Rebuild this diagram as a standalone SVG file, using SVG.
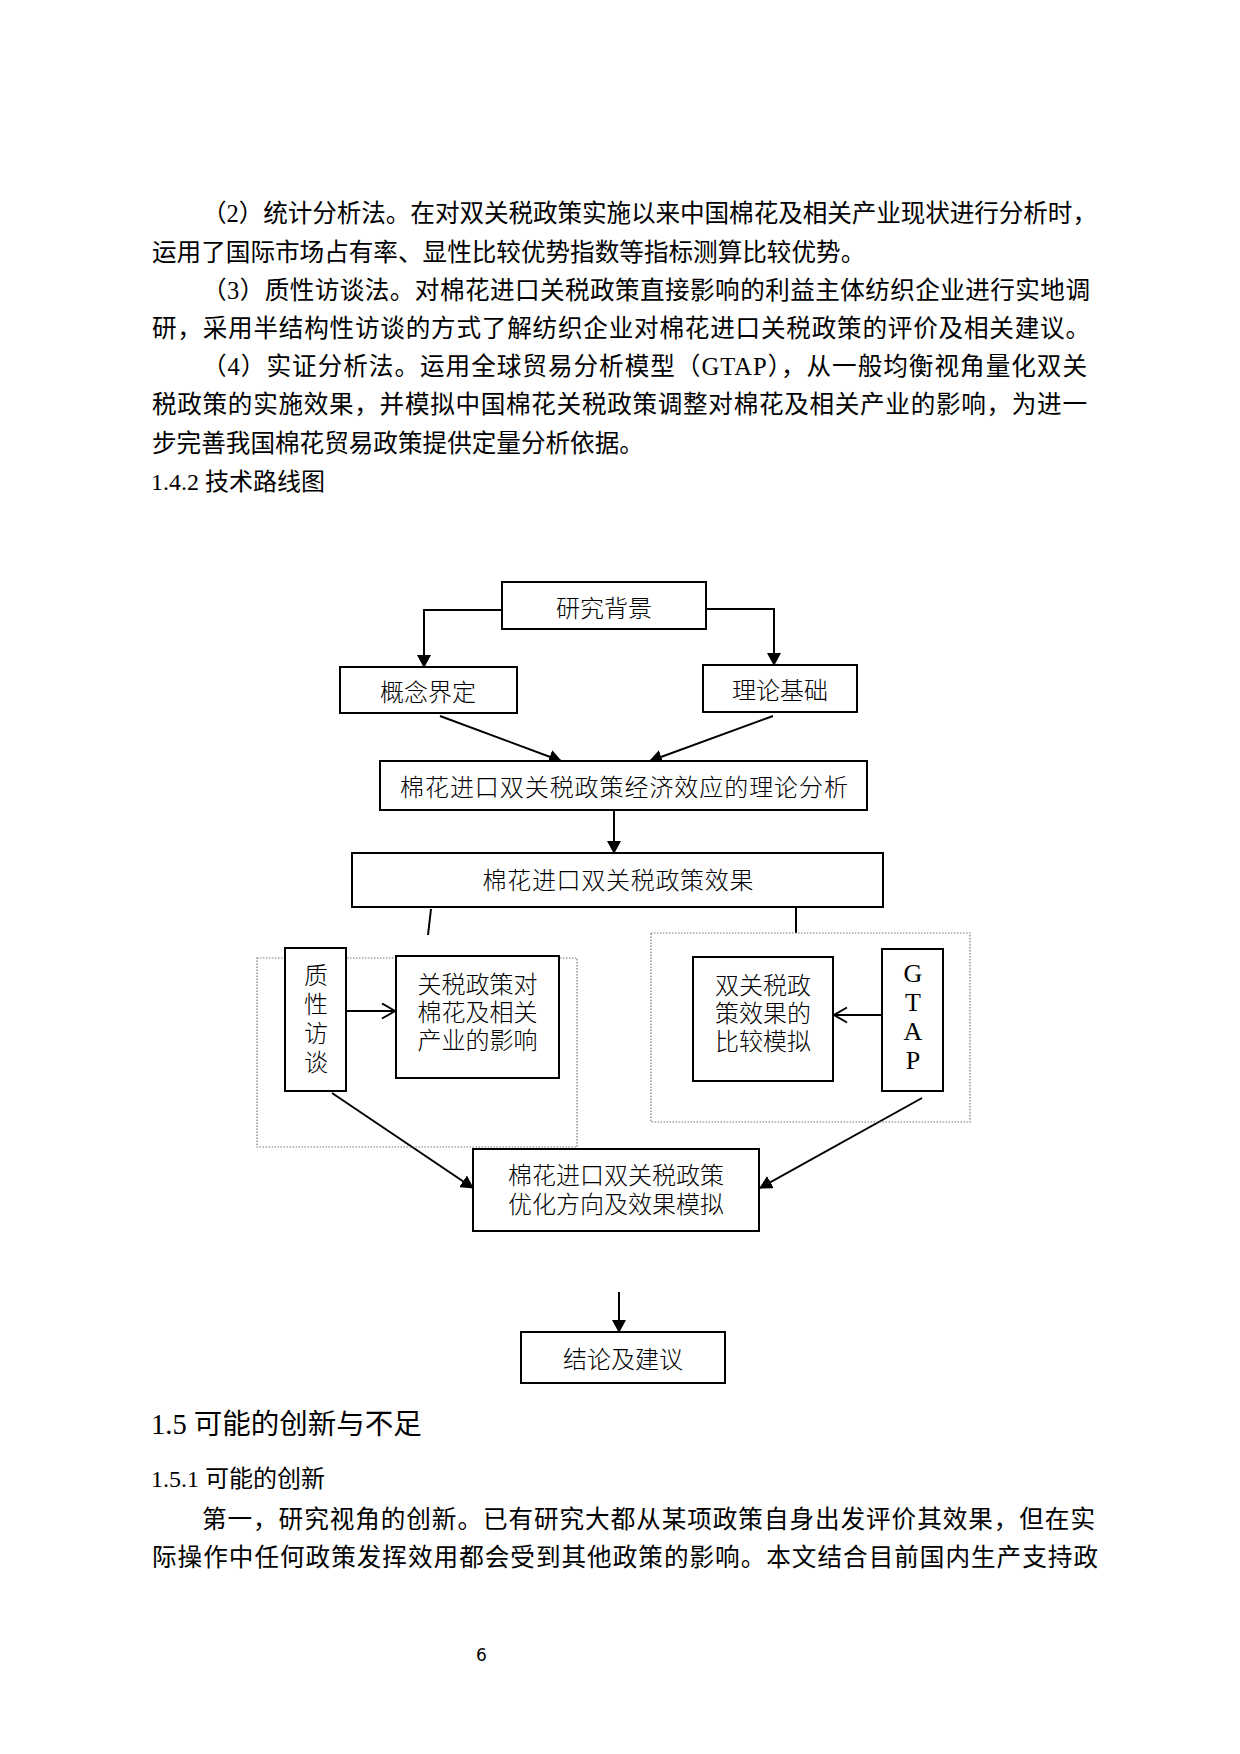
<svg xmlns="http://www.w3.org/2000/svg" width="1240" height="1754" viewBox="0 0 1240 1754">
<style>
.body{font-family:"Liberation Serif","Noto Sans CJK SC",serif;font-size:24.6px;fill:#000;}
.h{font-family:"Liberation Serif","Noto Sans CJK SC",sans-serif;fill:#000;}
.lbl{font-family:"Noto Sans CJK SC",sans-serif;font-size:24px;font-weight:300;fill:#000;text-anchor:middle;dominant-baseline:central;}
.gt{font-family:"Liberation Serif",serif;font-size:26px;fill:#000;text-anchor:middle;dominant-baseline:central;}
.box{fill:#fff;stroke:#000;stroke-width:2;}
.grp{fill:none;stroke:#777;stroke-width:1.2;stroke-dasharray:1.5 1.5;}
.con{fill:none;stroke:#000;stroke-width:2;}
.arr{marker-end:url(#ah);}
.oarr{marker-end:url(#oh);}
</style>
<defs>
<marker id="ah" markerUnits="userSpaceOnUse" markerWidth="13" markerHeight="14" refX="12" refY="7" orient="auto">
<path d="M0,0 L13,7 L0,14 z" fill="#000"/>
</marker>
<marker id="oh" markerUnits="userSpaceOnUse" markerWidth="16" markerHeight="18" refX="14" refY="8.5" orient="auto">
<path d="M1,1 L14,8.5 L1,16" fill="none" stroke="#000" stroke-width="2"/>
</marker>
</defs>
<rect width="1240" height="1754" fill="#fff"/>

<g id="text-top" class="body" dominant-baseline="central">
<text x="202" y="213" textLength="895" lengthAdjust="spacing">（2）统计分析法。在对双关税政策实施以来中国棉花及相关产业现状进行分析时，</text>
<text x="152" y="252">运用了国际市场占有率、显性比较优势指数等指标测算比较优势。</text>
<text x="202" y="290" textLength="888" lengthAdjust="spacing">（3）质性访谈法。对棉花进口关税政策直接影响的利益主体纺织企业进行实地调</text>
<text x="152" y="328" textLength="938" lengthAdjust="spacing">研，采用半结构性访谈的方式了解纺织企业对棉花进口关税政策的评价及相关建议。</text>
<text x="202" y="366" textLength="885" lengthAdjust="spacing">（4）实证分析法。运用全球贸易分析模型（GTAP），从一般均衡视角量化双关</text>
<text x="152" y="404" textLength="935" lengthAdjust="spacing">税政策的实施效果，并模拟中国棉花关税政策调整对棉花及相关产业的影响，为进一</text>
<text x="152" y="443">步完善我国棉花贸易政策提供定量分析依据。</text>
</g>
<text id="h142" class="h" x="151" y="482" font-size="24" dominant-baseline="central">1.4.2 技术路线图</text>

<g id="connectors">
<polyline class="con arr" points="503,610 424,610 424,667"/>
<polyline class="con arr" points="706,609 774,609 774,665"/>
<line class="con arr" x1="440" y1="716" x2="561" y2="761"/>
<line class="con arr" x1="773" y1="716" x2="650" y2="761"/>
<line class="con arr" x1="614" y1="810" x2="614" y2="853"/>
<line class="con" x1="431" y1="909" x2="428" y2="935"/>
<line class="con" x1="796" y1="907" x2="796" y2="933"/>
<line class="con oarr" x1="346" y1="1011" x2="395" y2="1011"/>
<line class="con oarr" x1="882" y1="1015" x2="834" y2="1015"/>
<line class="con arr" x1="332" y1="1093" x2="473" y2="1188"/>
<line class="con arr" x1="922" y1="1098" x2="760" y2="1188"/>
<line class="con arr" x1="619" y1="1292" x2="619" y2="1332"/>
</g>

<g id="grp-left"><rect class="grp" x="257" y="958" width="320" height="189"/></g>
<g id="grp-right"><rect class="grp" x="651" y="933" width="319" height="189"/></g>

<g id="n-bg"><rect class="box" x="502" y="582" width="204" height="47"/><text class="lbl" x="604" y="606">研究背景</text></g>
<g id="n-gn"><rect class="box" x="340" y="667" width="177" height="46"/><text class="lbl" x="428" y="690">概念界定</text></g>
<g id="n-ll"><rect class="box" x="703" y="665" width="154" height="47"/><text class="lbl" x="780" y="688">理论基础</text></g>
<g id="n-fx"><rect class="box" x="380" y="761" width="487" height="49"/><text class="lbl" x="624" y="785" textLength="448" lengthAdjust="spacing">棉花进口双关税政策经济效应的理论分析</text></g>
<g id="n-xg"><rect class="box" x="352" y="853" width="531" height="54"/><text class="lbl" x="618" y="878" textLength="271" lengthAdjust="spacing">棉花进口双关税政策效果</text></g>
<g id="n-zx"><rect class="box" x="285" y="948" width="61" height="143"/>
<text class="lbl"><tspan x="316" y="973">质</tspan><tspan x="316" y="1002">性</tspan><tspan x="316" y="1031">访</tspan><tspan x="316" y="1060">谈</tspan></text></g>
<g id="n-gs"><rect class="box" x="396" y="956" width="163" height="122"/>
<text class="lbl"><tspan x="477.5" y="982">关税政策对</tspan><tspan x="477.5" y="1010">棉花及相关</tspan><tspan x="477.5" y="1038">产业的影响</tspan></text></g>
<g id="n-sg"><rect class="box" x="693" y="957" width="140" height="124"/>
<text class="lbl"><tspan x="763" y="983">双关税政</tspan><tspan x="763" y="1011">策效果的</tspan><tspan x="763" y="1039">比较模拟</tspan></text></g>
<g id="n-gtap"><rect class="box" x="882" y="949" width="61" height="142"/>
<text class="gt"><tspan x="913" y="973">G</tspan><tspan x="913" y="1002">T</tspan><tspan x="913" y="1031">A</tspan><tspan x="913" y="1060">P</tspan></text></g>
<g id="n-yh"><rect class="box" x="473" y="1149" width="286" height="82"/>
<text class="lbl"><tspan x="616" y="1173">棉花进口双关税政策</tspan><tspan x="616" y="1202">优化方向及效果模拟</tspan></text></g>
<g id="n-jl"><rect class="box" x="521" y="1332" width="204" height="51"/><text class="lbl" x="623" y="1357">结论及建议</text></g>

<g id="text-bottom">
<text class="h" x="151" y="1424" font-size="28.5" dominant-baseline="central">1.5 可能的创新与不足</text>
<text class="h" x="151" y="1479" font-size="24" dominant-baseline="central">1.5.1 可能的创新</text>
<g class="body" dominant-baseline="central">
<text x="202" y="1519" textLength="893" lengthAdjust="spacing">第一，研究视角的创新。已有研究大都从某项政策自身出发评价其效果，但在实</text>
<text x="152" y="1557" textLength="946" lengthAdjust="spacing">际操作中任何政策发挥效用都会受到其他政策的影响。本文结合目前国内生产支持政</text>
</g>
<text x="476" y="1655" font-family="DejaVu Sans, sans-serif" font-size="17" dominant-baseline="central">6</text>
</g>
</svg>
